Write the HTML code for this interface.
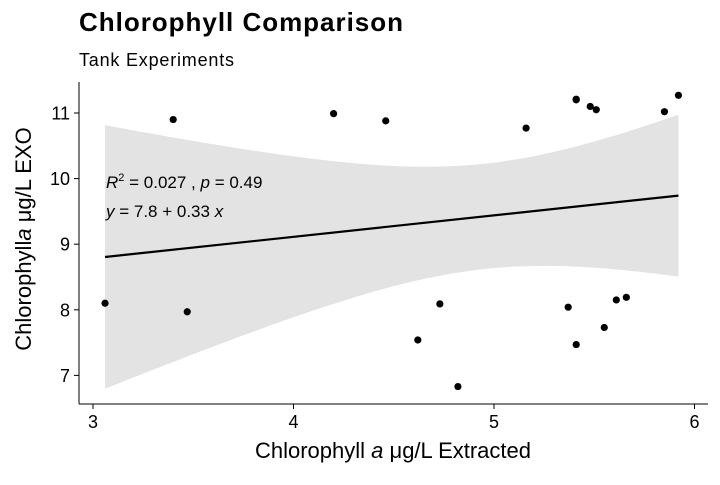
<!DOCTYPE html>
<html><head><meta charset="utf-8"><style>
body{margin:0;background:#fff;font-family:"Liberation Sans",sans-serif;}
svg text{font-family:"Liberation Sans",sans-serif;}
</style></head><body>
<svg id="c" width="720" height="480">
<text x="79" y="31" font-size="26" font-weight="bold" textLength="324">Chlorophyll Comparison</text>
<text x="79" y="66" font-size="18" textLength="155">Tank Experiments</text>
<g id="band"></g><g id="line"></g><g id="pts"></g>
<line x1="79" y1="82" x2="79" y2="404" stroke="#000"/>
<line x1="79" y1="404" x2="708" y2="404" stroke="#000"/>
<g id="ticks"></g>
<text x="106" y="188" font-size="17"><tspan font-style="italic">R</tspan><tspan dy="-7" font-size="11">2</tspan><tspan dy="7"> = 0.027 ,  </tspan><tspan font-style="italic">p</tspan> = 0.49</text>
<text x="106" y="217" font-size="17"><tspan font-style="italic">y</tspan> = 7.8 + 0.33 <tspan font-style="italic">x</tspan></text>
<text x="393" y="458" font-size="22" text-anchor="middle">Chlorophyll <tspan font-style="italic">a</tspan> μg/L Extracted</text>
<text transform="translate(31,239) rotate(-90)" font-size="22" text-anchor="middle">Chlorophyll<tspan font-style="italic">a</tspan> μg/L EXO</text>
</svg>
<script>
const xVals=[3.06,3.40,3.47,4.20,4.46,4.62,4.73,4.82,5.16,5.37,5.41,5.41,5.41,5.48,5.51,5.55,5.61,5.66,5.85,5.92];
const yVals=[8.10,10.90,7.97,10.99,10.88,7.54,8.09,6.83,10.77,8.04,11.21,11.20,7.47,11.10,11.05,7.73,8.15,8.19,11.02,11.27];
const xTicks=[3,4,5,6];
const yTicks=[7,8,9,10,11];
const NS="http://www.w3.org/2000/svg";
const sx=v=>93+(v-3)*200.5;
const sy=v=>113+(11-v)*65.6;
function mk(t,a,p){const e=document.createElementNS(NS,t);for(const k in a)e.setAttribute(k,a[k]);document.getElementById(p).appendChild(e);return e;}
xTicks.forEach(t=>{
 const l=mk('line',{x1:sx(t),x2:sx(t),y1:404,y2:409,stroke:'#000'},'ticks');
 
 
 const tx=mk('text',{x:sx(t),y:428,'font-size':18,'text-anchor':'middle',fill:'#000'},'ticks');tx.textContent=t;
 
 
});
yTicks.forEach(t=>{
 const l=mk('line',{x1:74,x2:79,y1:sy(t),y2:sy(t),stroke:'#000'},'ticks');
 
 
 const tx=mk('text',{x:70,y:sy(t)+6.5,'font-size':18,'text-anchor':'end',fill:'#000'},'ticks');tx.textContent=t;
 
 
});
const n=xVals.length,mx=xVals.reduce((a,b)=>a+b)/n,my=yVals.reduce((a,b)=>a+b)/n;
let sxx=0,sxy=0;for(let i=0;i<n;i++){sxx+=(xVals[i]-mx)**2;sxy+=(xVals[i]-mx)*(yVals[i]-my);}
const b=sxy/sxx,a=my-b*mx;
let sse=0;for(let i=0;i<n;i++)sse+=(yVals[i]-a-b*xVals[i])**2;
const s=Math.sqrt(sse/(n-2)),tq=2.101;
const x0=Math.min(...xVals),x1=Math.max(...xVals);
let up=[],lo=[];
for(let k=0;k<=80;k++){const x=x0+(x1-x0)*k/80,f=a+b*x,h=tq*s*Math.sqrt(1/n+(x-mx)**2/sxx);
 up.push(sx(x)+','+sy(f+h));lo.unshift(sx(x)+','+sy(f-h));}
const band=mk('polygon',{points:up.concat(lo).join(' '),fill:'#e3e3e3'},'band');


const ln=mk('line',{x1:sx(x0),y1:sy(a+b*x0),x2:sx(x1),y2:sy(a+b*x1),stroke:'#000','stroke-width':2.2},'line');


xVals.forEach((x,i)=>{
 const c=mk('circle',{cx:sx(x),cy:sy(yVals[i]),r:3.6,fill:'#000'},'pts');
 
 
});
</script>
</body></html>
